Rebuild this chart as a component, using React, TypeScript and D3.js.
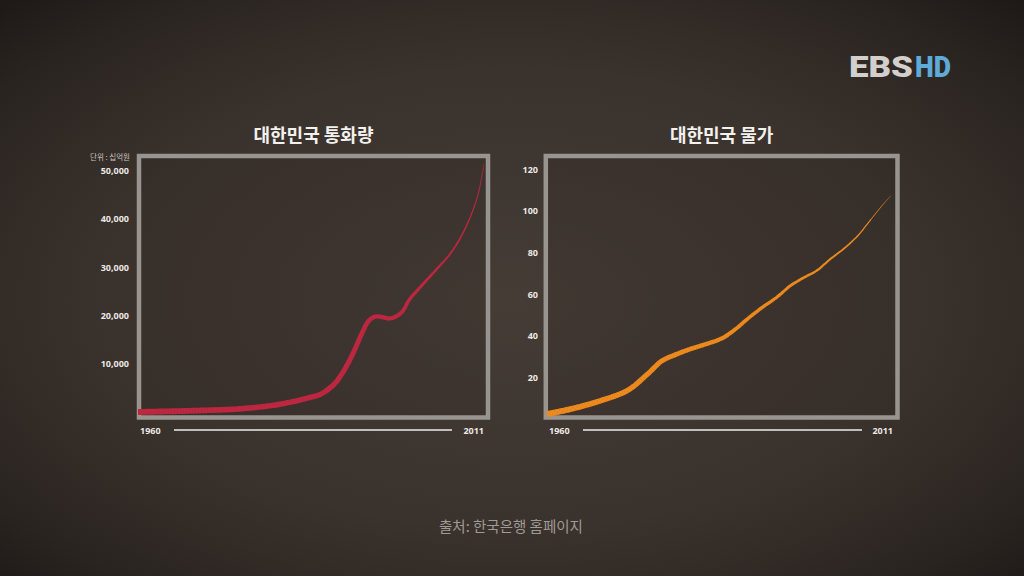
import React from "react";
import * as d3 from "d3";

// ---- Data ----
const moneyYears = [1960, 1965, 1970, 1975, 1980, 1983, 1985, 1987, 1989, 1990, 1991, 1992, 1993, 1994, 1995, 1996, 1997, 1998, 1999, 2000, 2002, 2004, 2006, 2008, 2010, 2011];
const moneyValues = [0, 150, 350, 650, 1400, 2200, 2900, 3750, 5900, 7800, 10200, 13100, 16300, 18900, 19800, 19700, 19400, 19800, 20900, 23300, 26500, 29600, 32800, 37400, 44500, 51500];
const moneyTicks = [10000, 20000, 30000, 40000, 50000];

const priceYears = [1960, 1964, 1968, 1972, 1975, 1977, 1979, 1981, 1984, 1986, 1988, 1990, 1992, 1994, 1996, 1998, 2000, 2002, 2004, 2006, 2008, 2010, 2011];
const priceValues = [2.5, 5.3, 9, 14, 22, 28, 31, 33.5, 36.6, 39, 43.5, 49, 54, 58.5, 64, 68, 71.5, 77, 82, 88, 96, 104, 107.5];
const priceTicks = [20, 40, 60, 80, 100, 120];

const yearLabels = ["1960", "2011"];
const titles = ["대한민국 통화량", "대한민국 물가"];
const unitLabel = "단위 : 십억원";
const sourceLabel = "출처: 한국은행 홈페이지";

const W = 1024;
const H = 576;

type RibbonProps = {
  years: number[];
  values: number[];
  x: d3.ScaleLinear<number, number>;
  y: d3.ScaleLinear<number, number>;
  color: string;
  widthStops: [number[], number[]];
};

function Ribbon({ years, values, x, y, color, widthStops }: RibbonProps) {
  const line = d3
    .line<number>()
    .x((_, i) => x(years[i]))
    .y((d) => y(d))
    .curve(d3.curveCatmullRom.alpha(0.5));
  const d = line(values) || "";
  const N = 160;
  const seg = 1000 / N;
  const wScale = d3.scaleLinear().domain(widthStops[0]).range(widthStops[1]);
  return (
    <g>
      {d3.range(N).map((i) => (
        <path
          key={i}
          d={d}
          pathLength={1000}
          fill="none"
          stroke={color}
          strokeWidth={wScale((i + 0.5) / N)}
          strokeDasharray={`${seg + 0.8} 3000`}
          strokeDashoffset={-i * seg}
          strokeLinecap="butt"
        />
      ))}
    </g>
  );
}

type PanelProps = {
  frame: { x: number; y: number; w: number; h: number };
  x: d3.ScaleLinear<number, number>;
  y: d3.ScaleLinear<number, number>;
  ticks: number[];
  fmt: (n: number) => string;
  labelX: number;
  title: string;
  years: number[];
  values: number[];
  color: string;
  widthStops: [number[], number[]];
  yearLabelPos: [number, number];
  axisLine: [number, number];
};

function Panel(p: PanelProps) {
  const { frame } = p;
  return (
    <g>
      <text
        x={frame.x + frame.w / 2}
        y={142}
        textAnchor="middle"
        fontFamily="'Noto Sans CJK KR', 'Noto Sans', sans-serif"
        fontWeight={700}
        fontSize={18}
        fill="#f3f1ee"
      >
        {p.title}
      </text>
      <rect
        x={frame.x}
        y={frame.y}
        width={frame.w}
        height={frame.h}
        fill="rgba(20,16,14,0.08)"
        stroke="#98948f"
        strokeWidth={4.5}
      />
      {p.ticks.map((t) => (
        <text
          key={t}
          x={p.labelX}
          y={p.y(t)}
          dy="0.35em"
          textAnchor="end"
          fontFamily="'Open Sans', 'Noto Sans', sans-serif"
          fontWeight={700}
          fontSize={9}
          fill="#ece8e4"
        >
          {p.fmt(t)}
        </text>
      ))}
      <Ribbon years={p.years} values={p.values} x={p.x} y={p.y} color={p.color} widthStops={p.widthStops} />
      <line x1={p.axisLine[0]} x2={p.axisLine[1]} y1={430} y2={430} stroke="#efedea" strokeWidth={1.6} />
      <text
        x={p.yearLabelPos[0]}
        y={431}
        dy="0.35em"
        textAnchor="start"
        fontFamily="'Open Sans', 'Noto Sans', sans-serif"
        fontWeight={700}
        fontSize={9}
        fill="#ece8e4"
      >
        {yearLabels[0]}
      </text>
      <text
        x={p.yearLabelPos[1]}
        y={431}
        dy="0.35em"
        textAnchor="end"
        fontFamily="'Open Sans', 'Noto Sans', sans-serif"
        fontWeight={700}
        fontSize={9}
        fill="#ece8e4"
      >
        {yearLabels[1]}
      </text>
    </g>
  );
}

export default function App() {
  const xL = d3.scaleLinear().domain([1960, 2011]).range([138, 484]);
  const yL = d3.scaleLinear().domain([0, 50000]).range([412, 171]);
  const xR = d3.scaleLinear().domain([1960, 2011]).range([547, 891]);
  const yR = d3.scaleLinear().domain([0, 120]).range([419.3, 169.7]);
  const comma = d3.format(",");
  const plain = d3.format("d");

  return (
    <svg
      width={W}
      height={H}
      viewBox={`0 0 ${W} ${H}`}
      style={{ position: "absolute", left: 0, top: 0, display: "block" }}
    >
      <defs>
        <radialGradient id="bg" cx="50%" cy="52%" r="72%">
          <stop offset="0%" stopColor="#453c36" />
          <stop offset="55%" stopColor="#3a322d" />
          <stop offset="85%" stopColor="#2a2420" />
          <stop offset="100%" stopColor="#1d1916" />
        </radialGradient>
      </defs>
      <rect x={0} y={0} width={W} height={H} fill="url(#bg)" />

      {/* Logo */}
      <text
        x={849}
        y={77}
        fontFamily="Roboto, 'Open Sans', sans-serif"
        fontWeight={900}
        fontSize={30}
        fill="#d2cfcc"
        textLength={64}
        lengthAdjust="spacingAndGlyphs"
      >
        EBS
      </text>
      <text
        x={915}
        y={77}
        fontFamily="Roboto, 'Open Sans', sans-serif"
        fontWeight={900}
        fontSize={30}
        fill="#5eaad8"
        textLength={36}
        lengthAdjust="spacingAndGlyphs"
      >
        HD
      </text>

      <text
        x={130}
        y={160}
        textAnchor="end"
        fontFamily="'Noto Sans CJK KR', sans-serif"
        fontSize={7.5}
        fill="#c9c4bf"
      >
        {unitLabel}
      </text>

      <Panel
        frame={{ x: 139, y: 156, w: 349, h: 261.5 }}
        x={xL}
        y={yL}
        ticks={moneyTicks}
        fmt={comma}
        labelX={129}
        title={titles[0]}
        years={moneyYears}
        values={moneyValues}
        color="#bd2740"
        widthStops={[[0, 0.5, 0.62, 0.8, 1], [6, 5, 4.2, 1.8, 0.6]]}
        yearLabelPos={[140, 484]}
        axisLine={[174, 452]}
      />
      <Panel
        frame={{ x: 545.8, y: 156, w: 351.7, h: 261.5 }}
        x={xR}
        y={yR}
        ticks={priceTicks}
        fmt={plain}
        labelX={538}
        title={titles[1]}
        years={priceYears}
        values={priceValues}
        color="#ee8a1e"
        widthStops={[[0, 0.35, 0.65, 0.85, 1], [6, 4.8, 3, 1.6, 0.4]]}
        yearLabelPos={[549, 893]}
        axisLine={[583, 862]}
      />

      <text
        x={511}
        y={532}
        textAnchor="middle"
        fontFamily="'Noto Sans CJK KR', sans-serif"
        fontWeight={400}
        fontSize={14.5}
        fill="#a09a95"
      >
        {sourceLabel}
      </text>
    </svg>
  );
}
